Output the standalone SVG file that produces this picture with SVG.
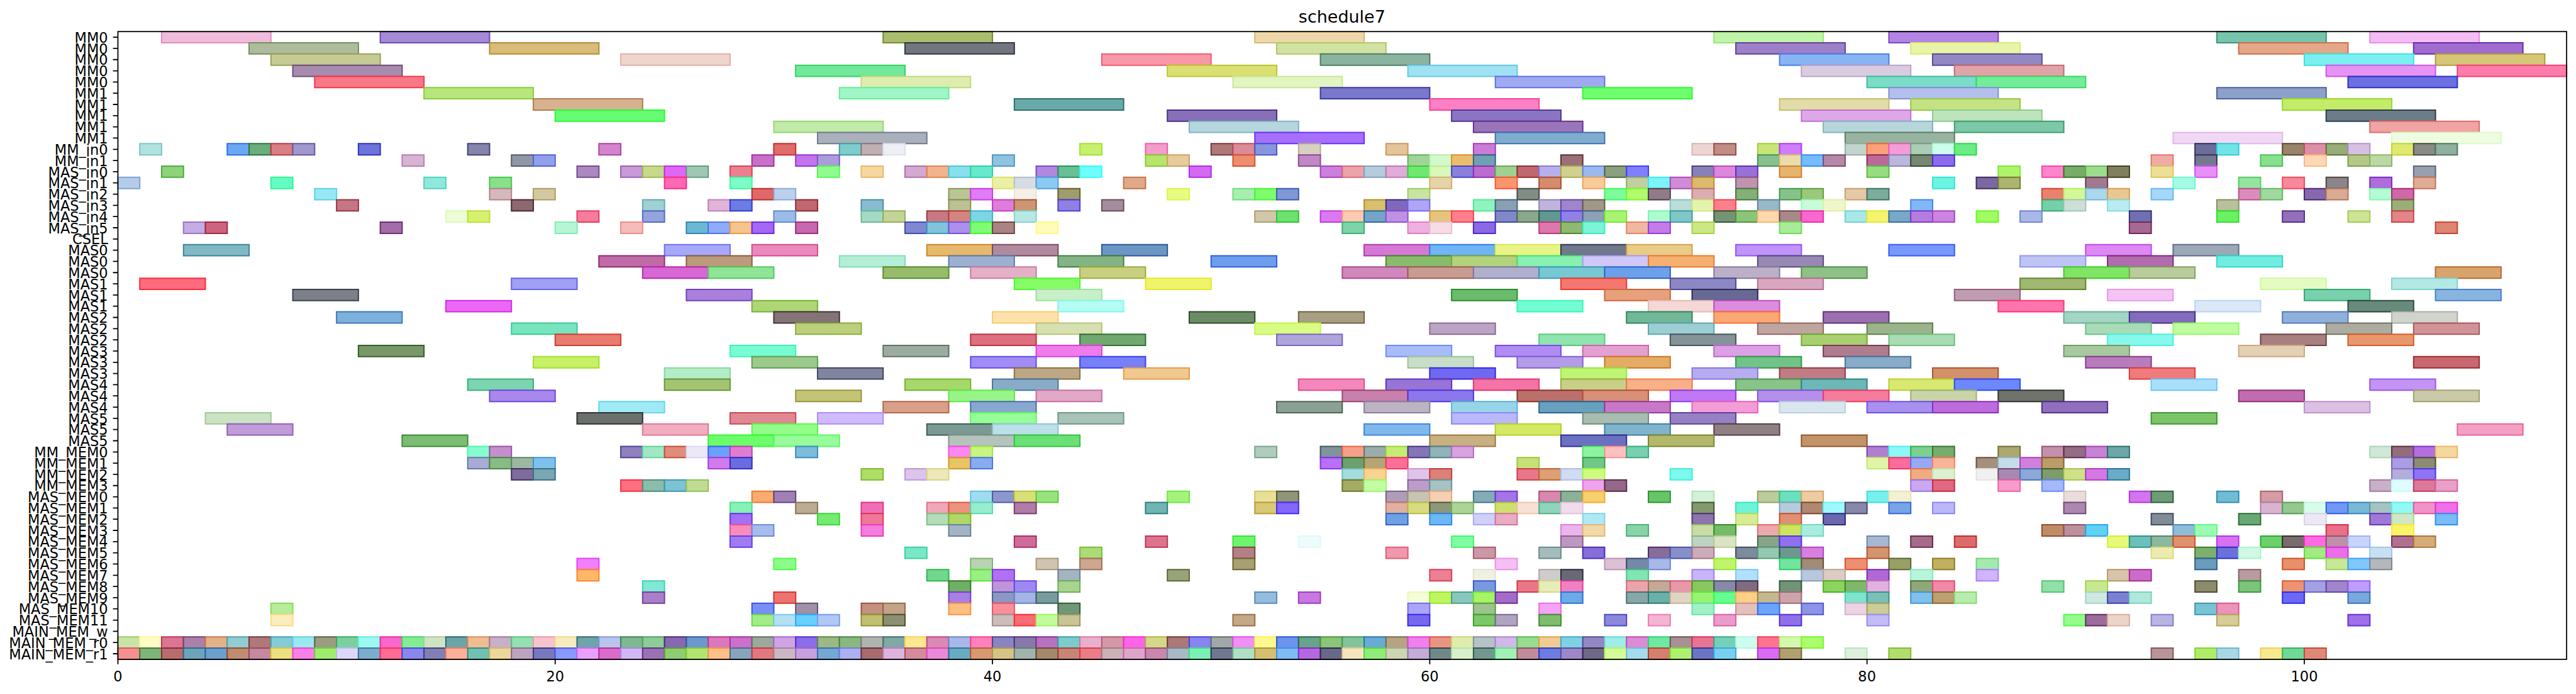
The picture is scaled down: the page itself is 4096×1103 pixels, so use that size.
<svg xmlns="http://www.w3.org/2000/svg" width="4096" height="1103" viewBox="0 0 4096 1103">
<style>
text{font-family:"DejaVu Sans","Liberation Sans",sans-serif;fill:#000}
.yl text{font-size:27.8px;text-anchor:end}
.xl text{font-size:27.8px;text-anchor:middle}
.t{font-size:33.3px;text-anchor:middle}
#bars rect{fill:currentColor;stroke:rgba(0,0,0,.2);stroke:rgb(from currentColor calc(r*r/255) calc(g*g/255) calc(b*b/255));stroke-width:2;vector-effect:non-scaling-stroke}
.tk{stroke:#000;stroke-width:2.2;fill:none}
</style>
<rect width="4096" height="1103" fill="#fff"/>
<g transform="scale(0.80981)">
<text class="t" x="2635" y="45">schedule7</text>
<g id="bars" transform="translate(231.5,62) scale(42.93,22)">
<g id="r0"><rect x="2" width="5" height="1" color="#f0bcdc"/><rect x="12" width="5" height="1" color="#a58ad8"/><rect x="35" width="5" height="1" color="#aabd6e"/><rect x="52" width="5" height="1" color="#eed8aa"/><rect x="73" width="5" height="1" color="#c0f4a8"/><rect x="81" width="5" height="1" color="#b484e4"/><rect x="96" width="5" height="1" color="#78c4ac"/><rect x="103" width="5" height="1" color="#f4bcf4"/></g>
<g id="r1" transform="translate(0,1)"><rect x="6" width="5" height="1" color="#afbc9c"/><rect x="17" width="5" height="1" color="#d8bc78"/><rect x="36" width="5" height="1" color="#72767e"/><rect x="53" width="5" height="1" color="#d2e2a2"/><rect x="74" width="5" height="1" color="#9e80c8"/><rect x="82" width="5" height="1" color="#eaf4a8"/><rect x="97" width="5" height="1" color="#e4a888"/><rect x="105" width="5" height="1" color="#a06cd0"/></g>
<g id="r2" transform="translate(0,2)"><rect x="7" width="5" height="1" color="#c6ca94"/><rect x="23" width="5" height="1" color="#f0d4ce"/><rect x="45" width="5" height="1" color="#f898a8"/><rect x="55" width="5" height="1" color="#8ab4a0"/><rect x="76" width="5" height="1" color="#88b4f4"/><rect x="83" width="5" height="1" color="#9488c4"/><rect x="100" width="5" height="1" color="#7cf0f0"/><rect x="106" width="5" height="1" color="#d6c678"/></g>
<g id="r3" transform="translate(0,3)"><rect x="8" width="5" height="1" color="#a78caf"/><rect x="31" width="5" height="1" color="#72e89a"/><rect x="48" width="5" height="1" color="#dbe072"/><rect x="59" width="5" height="1" color="#a0e2f2"/><rect x="77" width="5" height="1" color="#dacce0"/><rect x="84" width="5" height="1" color="#e0a4a8"/><rect x="101" width="5" height="1" color="#e694f4"/><rect x="107" width="5" height="1" color="#fc7cac"/></g>
<g id="r4" transform="translate(0,4)"><rect x="9" width="5" height="1" color="#f87888"/><rect x="34" width="5" height="1" color="#dfecb0"/><rect x="51" width="5" height="1" color="#e2f4c2"/><rect x="63" width="5" height="1" color="#a0aaf0"/><rect x="80" width="5" height="1" color="#7cdcc8"/><rect x="85" width="5" height="1" color="#74ec9c"/><rect x="102" width="5" height="1" color="#6c70e0"/></g>
<g id="r5" transform="translate(0,5)"><rect x="14" width="5" height="1" color="#b8e67c"/><rect x="33" width="5" height="1" color="#a0f6c6"/><rect x="55" width="5" height="1" color="#7a78cc"/><rect x="67" width="5" height="1" color="#6efe6e"/><rect x="81" width="5" height="1" color="#b4c0ec"/><rect x="96" width="5" height="1" color="#8ca0c8"/></g>
<g id="r6" transform="translate(0,6)"><rect x="19" width="5" height="1" color="#d6b290"/><rect x="41" width="5" height="1" color="#68aaa8"/><rect x="60" width="5" height="1" color="#fe80c4"/><rect x="76" width="5" height="1" color="#e2dca8"/><rect x="82" width="5" height="1" color="#c4e284"/><rect x="99" width="5" height="1" color="#c4ec68"/></g>
<g id="r7" transform="translate(0,7)"><rect x="20" width="5" height="1" color="#68fc74"/><rect x="48" width="5" height="1" color="#8870b8"/><rect x="61" width="5" height="1" color="#8c74c4"/><rect x="77" width="5" height="1" color="#dea8e8"/><rect x="83" width="5" height="1" color="#bde4bc"/><rect x="101" width="5" height="1" color="#6c7c88"/></g>
<g id="r8" transform="translate(0,8)"><rect x="30" width="5" height="1" color="#c2eaa8"/><rect x="49" width="5" height="1" color="#b4d6dc"/><rect x="62" width="5" height="1" color="#9c74bc"/><rect x="78" width="5" height="1" color="#b6d6dc"/><rect x="84" width="5" height="1" color="#7cc8a8"/><rect x="103" width="5" height="1" color="#f0a4a4"/></g>
<g id="r9" transform="translate(0,9)"><rect x="32" width="5" height="1" color="#aab0bc"/><rect x="52" width="5" height="1" color="#a670fc"/><rect x="63" width="5" height="1" color="#80acd0"/><rect x="79" width="5" height="1" color="#98b4a0"/><rect x="94" width="5" height="1" color="#f0d8f4"/><rect x="104" width="5" height="1" color="#eefce0"/></g>
<g id="r10" transform="translate(0,10)"><rect x="1" width="1" height="1" color="#b2e2de"/><rect x="5" width="1" height="1" color="#6aa8f4"/><rect x="6" width="1" height="1" color="#6aae7e"/><rect x="7" width="1" height="1" color="#d87e84"/><rect x="8" width="1" height="1" color="#a098cc"/><rect x="11" width="1" height="1" color="#6c74dc"/><rect x="16" width="1" height="1" color="#8484ac"/><rect x="22" width="1" height="1" color="#d484cc"/><rect x="30" width="1" height="1" color="#e06c6c"/><rect x="33" width="1" height="1" color="#7ecccc"/><rect x="34" width="1" height="1" color="#c0b0b4"/><rect x="35" width="1" height="1" color="#eeeff4"/><rect x="44" width="1" height="1" color="#c8f070"/><rect x="47" width="1" height="1" color="#f49ccc"/><rect x="50" width="1" height="1" color="#b07878"/><rect x="51" width="1" height="1" color="#dc8c98"/><rect x="52" width="1" height="1" color="#8896e0"/><rect x="54" width="1" height="1" color="#d8d0c0"/><rect x="58" width="1" height="1" color="#e4c498"/><rect x="62" width="1" height="1" color="#cc7cd8"/><rect x="72" width="1" height="1" color="#ecd6d4"/><rect x="73" width="1" height="1" color="#c08c84"/><rect x="75" width="1" height="1" color="#c8e678"/><rect x="76" width="1" height="1" color="#d07cfc"/><rect x="79" width="1" height="1" color="#c2d4cc"/><rect x="80" width="1" height="1" color="#fca07c"/><rect x="81" width="1" height="1" color="#f49cd8"/><rect x="82" width="1" height="1" color="#acccb8"/><rect x="83" width="1" height="1" color="#ccfcec"/><rect x="84" width="1" height="1" color="#6cec84"/><rect x="95" width="1" height="1" color="#6c6c9c"/><rect x="96" width="1" height="1" color="#70e4e8"/><rect x="99" width="1" height="1" color="#988468"/><rect x="100" width="1" height="1" color="#dc90a8"/><rect x="101" width="1" height="1" color="#98ac78"/><rect x="102" width="1" height="1" color="#d8c0e4"/><rect x="104" width="1" height="1" color="#e0e870"/><rect x="105" width="1" height="1" color="#888c84"/><rect x="106" width="1" height="1" color="#90b0a0"/></g>
<g id="r11" transform="translate(0,11)"><rect x="13" width="1" height="1" color="#d8b4d4"/><rect x="18" width="1" height="1" color="#9098a8"/><rect x="19" width="1" height="1" color="#90a0ec"/><rect x="29" width="1" height="1" color="#c870c8"/><rect x="31" width="1" height="1" color="#c274ec"/><rect x="32" width="1" height="1" color="#ac9cdc"/><rect x="40" width="1" height="1" color="#8ec4e0"/><rect x="47" width="1" height="1" color="#b8e46c"/><rect x="48" width="1" height="1" color="#e6cc9c"/><rect x="51" width="1" height="1" color="#ec8e70"/><rect x="54" width="1" height="1" color="#c088c4"/><rect x="59" width="1" height="1" color="#a0d498"/><rect x="60" width="1" height="1" color="#d4f8cc"/><rect x="61" width="1" height="1" color="#ecbe6c"/><rect x="62" width="1" height="1" color="#70a0b4"/><rect x="66" width="1" height="1" color="#9c7078"/><rect x="75" width="1" height="1" color="#88c090"/><rect x="76" width="1" height="1" color="#ecdcac"/><rect x="77" width="1" height="1" color="#74bcfc"/><rect x="78" width="1" height="1" color="#b488a8"/><rect x="80" width="1" height="1" color="#bc6898"/><rect x="81" width="1" height="1" color="#bcb8dc"/><rect x="82" width="1" height="1" color="#788870"/><rect x="83" width="1" height="1" color="#8c6ce8"/><rect x="93" width="1" height="1" color="#f0aca4"/><rect x="95" width="1" height="1" color="#747890"/><rect x="98" width="1" height="1" color="#88e090"/><rect x="100" width="1" height="1" color="#fed8b4"/><rect x="102" width="1" height="1" color="#b4c888"/><rect x="103" width="1" height="1" color="#bcd8a4"/></g>
<g id="r12" transform="translate(0,12)"><rect x="2" width="1" height="1" color="#8ed27a"/><rect x="21" width="1" height="1" color="#ac88c0"/><rect x="23" width="1" height="1" color="#c89ad8"/><rect x="24" width="1" height="1" color="#c8d88c"/><rect x="25" width="1" height="1" color="#de68f4"/><rect x="26" width="1" height="1" color="#9ec8b4"/><rect x="28" width="1" height="1" color="#ec8090"/><rect x="32" width="1" height="1" color="#90fc90"/><rect x="34" width="1" height="1" color="#f4d8a0"/><rect x="36" width="1" height="1" color="#d4a8d0"/><rect x="37" width="1" height="1" color="#f2b48e"/><rect x="38" width="1" height="1" color="#88e0ec"/><rect x="39" width="1" height="1" color="#68e8cc"/><rect x="42" width="1" height="1" color="#b088e0"/><rect x="43" width="1" height="1" color="#68c094"/><rect x="44" width="1" height="1" color="#70fefc"/><rect x="49" width="1" height="1" color="#d46af4"/><rect x="55" width="1" height="1" color="#cc80dc"/><rect x="56" width="1" height="1" color="#eca4ac"/><rect x="57" width="1" height="1" color="#b4ccdc"/><rect x="58" width="1" height="1" color="#e0acd8"/><rect x="59" width="1" height="1" color="#70e870"/><rect x="60" width="1" height="1" color="#d8f8bc"/><rect x="61" width="1" height="1" color="#8880dc"/><rect x="62" width="1" height="1" color="#bc6cd0"/><rect x="63" width="1" height="1" color="#a0d090"/><rect x="64" width="1" height="1" color="#c06870"/><rect x="65" width="1" height="1" color="#b8b0ec"/><rect x="66" width="1" height="1" color="#d2d08c"/><rect x="67" width="1" height="1" color="#9cb8ec"/><rect x="68" width="1" height="1" color="#8aa080"/><rect x="69" width="1" height="1" color="#8080fc"/><rect x="72" width="1" height="1" color="#8880b8"/><rect x="73" width="1" height="1" color="#dc88dc"/><rect x="74" width="1" height="1" color="#9870d8"/><rect x="76" width="1" height="1" color="#e6b46c"/><rect x="80" width="1" height="1" color="#98dc80"/><rect x="86" width="1" height="1" color="#b0f46c"/><rect x="88" width="1" height="1" color="#fe84cc"/><rect x="89" width="1" height="1" color="#78ac68"/><rect x="90" width="1" height="1" color="#9cdc8c"/><rect x="91" width="1" height="1" color="#808060"/><rect x="93" width="1" height="1" color="#ece098"/><rect x="95" width="1" height="1" color="#e890f8"/><rect x="105" width="1" height="1" color="#98a0b0"/></g>
<g id="r13" transform="translate(0,13)"><rect x="0" width="1" height="1" color="#b4cce8"/><rect x="7" width="1" height="1" color="#64fcc0"/><rect x="14" width="1" height="1" color="#90e8dc"/><rect x="17" width="1" height="1" color="#88e08c"/><rect x="25" width="1" height="1" color="#fe68b4"/><rect x="28" width="1" height="1" color="#7cfcc8"/><rect x="40" width="1" height="1" color="#ecf0a4"/><rect x="41" width="1" height="1" color="#d6dce4"/><rect x="42" width="1" height="1" color="#8ccaf0"/><rect x="46" width="1" height="1" color="#e0aa8a"/><rect x="60" width="1" height="1" color="#e6d4a8"/><rect x="63" width="1" height="1" color="#fc946c"/><rect x="65" width="1" height="1" color="#d48c6c"/><rect x="67" width="1" height="1" color="#f8cc98"/><rect x="69" width="1" height="1" color="#c0d0a0"/><rect x="70" width="1" height="1" color="#7cf4f8"/><rect x="71" width="1" height="1" color="#d08cd8"/><rect x="72" width="1" height="1" color="#dcbc6c"/><rect x="74" width="1" height="1" color="#c094b0"/><rect x="83" width="1" height="1" color="#6cf4e4"/><rect x="85" width="1" height="1" color="#7c68a0"/><rect x="86" width="1" height="1" color="#acb470"/><rect x="90" width="1" height="1" color="#a07890"/><rect x="94" width="1" height="1" color="#a4fce4"/><rect x="97" width="1" height="1" color="#94e4a0"/><rect x="99" width="1" height="1" color="#f8889c"/><rect x="101" width="1" height="1" color="#8c8488"/><rect x="103" width="1" height="1" color="#b06cdc"/><rect x="105" width="1" height="1" color="#e0ac94"/></g>
<g id="r14" transform="translate(0,14)"><rect x="9" width="1" height="1" color="#98e8f4"/><rect x="17" width="1" height="1" color="#d4b8bc"/><rect x="19" width="1" height="1" color="#d2c8a0"/><rect x="29" width="1" height="1" color="#e06868"/><rect x="30" width="1" height="1" color="#bcd0ec"/><rect x="38" width="1" height="1" color="#bac494"/><rect x="39" width="1" height="1" color="#e07cf4"/><rect x="41" width="1" height="1" color="#f4f0e8"/><rect x="43" width="1" height="1" color="#a09c6c"/><rect x="48" width="1" height="1" color="#e8fc84"/><rect x="51" width="1" height="1" color="#a8eeb0"/><rect x="52" width="1" height="1" color="#80fc6c"/><rect x="53" width="1" height="1" color="#8098d4"/><rect x="59" width="1" height="1" color="#c8e4a0"/><rect x="64" width="1" height="1" color="#808c84"/><rect x="68" width="1" height="1" color="#7cfc9c"/><rect x="69" width="1" height="1" color="#b0fc6c"/><rect x="70" width="1" height="1" color="#907c88"/><rect x="72" width="1" height="1" color="#dcacb0"/><rect x="74" width="1" height="1" color="#84b078"/><rect x="76" width="1" height="1" color="#84c48c"/><rect x="77" width="1" height="1" color="#9cc87c"/><rect x="79" width="1" height="1" color="#e4c8a8"/><rect x="80" width="1" height="1" color="#7cac9c"/><rect x="88" width="1" height="1" color="#ec8070"/><rect x="89" width="1" height="1" color="#d4f898"/><rect x="90" width="1" height="1" color="#acd8ec"/><rect x="91" width="1" height="1" color="#e8c890"/><rect x="93" width="1" height="1" color="#a4d8f8"/><rect x="97" width="1" height="1" color="#dc8cbc"/><rect x="98" width="1" height="1" color="#a0d8a0"/><rect x="100" width="1" height="1" color="#8868ac"/><rect x="101" width="1" height="1" color="#d8ac94"/><rect x="103" width="1" height="1" color="#b4fcd4"/><rect x="104" width="1" height="1" color="#d068a8"/></g>
<g id="r15" transform="translate(0,15)"><rect x="10" width="1" height="1" color="#c47684"/><rect x="18" width="1" height="1" color="#8c6870"/><rect x="24" width="1" height="1" color="#9ed0d4"/><rect x="27" width="1" height="1" color="#e0b4d8"/><rect x="28" width="1" height="1" color="#6c7ce4"/><rect x="31" width="1" height="1" color="#c06870"/><rect x="34" width="1" height="1" color="#8abcd0"/><rect x="38" width="1" height="1" color="#bcc094"/><rect x="40" width="1" height="1" color="#e07cdc"/><rect x="41" width="1" height="1" color="#cc9674"/><rect x="43" width="1" height="1" color="#9080e4"/><rect x="45" width="1" height="1" color="#a48c9c"/><rect x="57" width="1" height="1" color="#d6c06c"/><rect x="58" width="1" height="1" color="#8068bc"/><rect x="59" width="1" height="1" color="#b0a4f8"/><rect x="62" width="1" height="1" color="#90f4c0"/><rect x="63" width="1" height="1" color="#88a0b4"/><rect x="65" width="1" height="1" color="#c0b4dc"/><rect x="66" width="1" height="1" color="#a084cc"/><rect x="67" width="1" height="1" color="#a09884"/><rect x="71" width="1" height="1" color="#bcdcdc"/><rect x="72" width="1" height="1" color="#e4f4b0"/><rect x="73" width="1" height="1" color="#fc808c"/><rect x="75" width="1" height="1" color="#98b8c8"/><rect x="77" width="1" height="1" color="#c8fcd8"/><rect x="78" width="1" height="1" color="#f0f6cc"/><rect x="82" width="1" height="1" color="#80b8f8"/><rect x="88" width="1" height="1" color="#74d0a8"/><rect x="89" width="1" height="1" color="#cce0d8"/><rect x="91" width="1" height="1" color="#b8ecf0"/><rect x="96" width="1" height="1" color="#b8c09c"/><rect x="104" width="1" height="1" color="#9cae78"/></g>
<g id="r16" transform="translate(0,16)"><rect x="15" width="1" height="1" color="#eefcd8"/><rect x="16" width="1" height="1" color="#d8f070"/><rect x="21" width="1" height="1" color="#f47c9c"/><rect x="24" width="1" height="1" color="#94a4dc"/><rect x="30" width="1" height="1" color="#9cbce8"/><rect x="34" width="1" height="1" color="#a4dac4"/><rect x="35" width="1" height="1" color="#c4d498"/><rect x="37" width="1" height="1" color="#c87880"/><rect x="38" width="1" height="1" color="#d4847c"/><rect x="39" width="1" height="1" color="#7cd6e4"/><rect x="41" width="1" height="1" color="#b8e8e4"/><rect x="52" width="1" height="1" color="#d0c8a8"/><rect x="53" width="1" height="1" color="#6ee070"/><rect x="55" width="1" height="1" color="#dc78f0"/><rect x="56" width="1" height="1" color="#fccab0"/><rect x="57" width="1" height="1" color="#74a4c8"/><rect x="58" width="1" height="1" color="#c090e4"/><rect x="60" width="1" height="1" color="#e6c47c"/><rect x="61" width="1" height="1" color="#fc808c"/><rect x="63" width="1" height="1" color="#8088c8"/><rect x="64" width="1" height="1" color="#8ca88c"/><rect x="65" width="1" height="1" color="#609894"/><rect x="66" width="1" height="1" color="#9080e8"/><rect x="67" width="1" height="1" color="#8ca0b8"/><rect x="68" width="1" height="1" color="#a8f470"/><rect x="70" width="1" height="1" color="#acfcd0"/><rect x="71" width="1" height="1" color="#80c8c8"/><rect x="73" width="1" height="1" color="#749474"/><rect x="74" width="1" height="1" color="#8cc478"/><rect x="75" width="1" height="1" color="#fcd8ac"/><rect x="76" width="1" height="1" color="#a88888"/><rect x="77" width="1" height="1" color="#f868d0"/><rect x="79" width="1" height="1" color="#a8e8e8"/><rect x="80" width="1" height="1" color="#f4f470"/><rect x="81" width="1" height="1" color="#78a8c8"/><rect x="82" width="1" height="1" color="#b47ce0"/><rect x="83" width="1" height="1" color="#cc84e0"/><rect x="85" width="1" height="1" color="#a0fc60"/><rect x="87" width="1" height="1" color="#a8b8e8"/><rect x="92" width="1" height="1" color="#7070b0"/><rect x="96" width="1" height="1" color="#6cf064"/><rect x="99" width="1" height="1" color="#9470bc"/><rect x="102" width="1" height="1" color="#cce494"/><rect x="104" width="1" height="1" color="#e28488"/></g>
<g id="r17" transform="translate(0,17)"><rect x="3" width="1" height="1" color="#c4ace4"/><rect x="4" width="1" height="1" color="#cc6480"/><rect x="12" width="1" height="1" color="#a46ca8"/><rect x="20" width="1" height="1" color="#b6f6d4"/><rect x="23" width="1" height="1" color="#f6bcbc"/><rect x="26" width="1" height="1" color="#6cb8d4"/><rect x="27" width="1" height="1" color="#8eacf8"/><rect x="28" width="1" height="1" color="#f6c48c"/><rect x="29" width="1" height="1" color="#a468f4"/><rect x="31" width="1" height="1" color="#c868b0"/><rect x="36" width="1" height="1" color="#8088d4"/><rect x="37" width="1" height="1" color="#80c4dc"/><rect x="38" width="1" height="1" color="#ac90ec"/><rect x="39" width="1" height="1" color="#80fc74"/><rect x="40" width="1" height="1" color="#a88484"/><rect x="42" width="1" height="1" color="#fefcb8"/><rect x="56" width="1" height="1" color="#7cd4a8"/><rect x="59" width="1" height="1" color="#f0b0e0"/><rect x="60" width="1" height="1" color="#f6dce4"/><rect x="62" width="1" height="1" color="#8c68e4"/><rect x="65" width="1" height="1" color="#dc78ac"/><rect x="66" width="1" height="1" color="#90b870"/><rect x="67" width="1" height="1" color="#7cf4d8"/><rect x="69" width="1" height="1" color="#f0b8a0"/><rect x="70" width="1" height="1" color="#c47ce8"/><rect x="72" width="1" height="1" color="#cce884"/><rect x="76" width="1" height="1" color="#a8ec98"/><rect x="92" width="1" height="1" color="#a86894"/><rect x="106" width="1" height="1" color="#e08474"/></g>
<g id="r19" transform="translate(0,19)"><rect x="3" width="3" height="1" color="#80b8c4"/><rect x="25" width="3" height="1" color="#a8a8f8"/><rect x="29" width="3" height="1" color="#ea8abc"/><rect x="37" width="3" height="1" color="#e6ba6c"/><rect x="40" width="3" height="1" color="#b08a9e"/><rect x="45" width="3" height="1" color="#6c96c4"/><rect x="57" width="3" height="1" color="#d478d4"/><rect x="60" width="3" height="1" color="#70b4f4"/><rect x="63" width="3" height="1" color="#e8f488"/><rect x="66" width="3" height="1" color="#70788c"/><rect x="69" width="3" height="1" color="#e8cc88"/><rect x="74" width="3" height="1" color="#c094f8"/><rect x="81" width="3" height="1" color="#7898fc"/><rect x="90" width="3" height="1" color="#de88f4"/><rect x="94" width="3" height="1" color="#9ca8b8"/></g>
<g id="r20" transform="translate(0,20)"><rect x="22" width="3" height="1" color="#c06aa8"/><rect x="26" width="3" height="1" color="#bc9a7c"/><rect x="33" width="3" height="1" color="#b4eed6"/><rect x="38" width="3" height="1" color="#9cb0d0"/><rect x="43" width="3" height="1" color="#84b484"/><rect x="50" width="3" height="1" color="#6c9eec"/><rect x="58" width="3" height="1" color="#88bc6c"/><rect x="61" width="3" height="1" color="#b2d27c"/><rect x="64" width="3" height="1" color="#88f0b0"/><rect x="67" width="3" height="1" color="#d0c8f8"/><rect x="70" width="3" height="1" color="#f4b070"/><rect x="75" width="3" height="1" color="#9888b4"/><rect x="87" width="3" height="1" color="#c0c4f4"/><rect x="91" width="3" height="1" color="#b06cac"/><rect x="96" width="3" height="1" color="#70ece0"/></g>
<g id="r21" transform="translate(0,21)"><rect x="24" width="3" height="1" color="#d868d4"/><rect x="27" width="3" height="1" color="#90e498"/><rect x="35" width="3" height="1" color="#96bc6c"/><rect x="39" width="3" height="1" color="#e4b0c8"/><rect x="44" width="3" height="1" color="#c8d080"/><rect x="56" width="3" height="1" color="#d088bc"/><rect x="59" width="3" height="1" color="#c89c90"/><rect x="62" width="3" height="1" color="#b0b0cc"/><rect x="65" width="3" height="1" color="#78c8d4"/><rect x="68" width="3" height="1" color="#6ca0e8"/><rect x="73" width="3" height="1" color="#bcb0c8"/><rect x="77" width="3" height="1" color="#8ec088"/><rect x="89" width="3" height="1" color="#80e464"/><rect x="92" width="3" height="1" color="#b8cc9c"/><rect x="106" width="3" height="1" color="#d8a46c"/></g>
<g id="r22" transform="translate(0,22)"><rect x="1" width="3" height="1" color="#fc6c7c"/><rect x="18" width="3" height="1" color="#a0a0f4"/><rect x="41" width="3" height="1" color="#88fc68"/><rect x="47" width="3" height="1" color="#f0f46a"/><rect x="66" width="3" height="1" color="#f47870"/><rect x="71" width="3" height="1" color="#8c88c4"/><rect x="75" width="3" height="1" color="#d8a8c0"/><rect x="87" width="3" height="1" color="#a0b870"/><rect x="98" width="3" height="1" color="#e4fcc4"/><rect x="104" width="3" height="1" color="#b4e8e4"/></g>
<g id="r23" transform="translate(0,23)"><rect x="8" width="3" height="1" color="#7c8088"/><rect x="26" width="3" height="1" color="#aa80dc"/><rect x="42" width="3" height="1" color="#c8f0c8"/><rect x="61" width="3" height="1" color="#68bc6c"/><rect x="68" width="3" height="1" color="#e6a07c"/><rect x="72" width="3" height="1" color="#686894"/><rect x="84" width="3" height="1" color="#c09cb0"/><rect x="91" width="3" height="1" color="#f4c4f4"/><rect x="100" width="3" height="1" color="#78d0ac"/><rect x="106" width="3" height="1" color="#88b4e0"/></g>
<g id="r24" transform="translate(0,24)"><rect x="15" width="3" height="1" color="#ea68f4"/><rect x="29" width="3" height="1" color="#aed674"/><rect x="43" width="3" height="1" color="#b4fcf4"/><rect x="64" width="3" height="1" color="#74fcd4"/><rect x="70" width="3" height="1" color="#f4d8d8"/><rect x="73" width="3" height="1" color="#dc8cdc"/><rect x="86" width="3" height="1" color="#fe74ac"/><rect x="95" width="3" height="1" color="#dae8f8"/><rect x="102" width="3" height="1" color="#688a7c"/></g>
<g id="r25" transform="translate(0,25)"><rect x="10" width="3" height="1" color="#7eb0dc"/><rect x="30" width="3" height="1" color="#847478"/><rect x="40" width="3" height="1" color="#fee2aa"/><rect x="49" width="3" height="1" color="#6c8c68"/><rect x="54" width="3" height="1" color="#a89e84"/><rect x="69" width="3" height="1" color="#70b898"/><rect x="73" width="3" height="1" color="#fca874"/><rect x="78" width="3" height="1" color="#9c70b0"/><rect x="89" width="3" height="1" color="#a4d4c4"/><rect x="92" width="3" height="1" color="#846cbc"/><rect x="99" width="3" height="1" color="#90b0dc"/><rect x="104" width="3" height="1" color="#d0d4cc"/></g>
<g id="r26" transform="translate(0,26)"><rect x="18" width="3" height="1" color="#78e4c0"/><rect x="31" width="3" height="1" color="#bcd07c"/><rect x="42" width="3" height="1" color="#d6e0b0"/><rect x="52" width="3" height="1" color="#dafc84"/><rect x="60" width="3" height="1" color="#bca4c4"/><rect x="70" width="3" height="1" color="#9cced4"/><rect x="75" width="3" height="1" color="#c0a4a0"/><rect x="80" width="3" height="1" color="#9cb48c"/><rect x="90" width="3" height="1" color="#a8dcb8"/><rect x="94" width="3" height="1" color="#c0fca0"/><rect x="101" width="3" height="1" color="#acaca0"/><rect x="105" width="3" height="1" color="#d09498"/></g>
<g id="r27" transform="translate(0,27)"><rect x="20" width="3" height="1" color="#e87c70"/><rect x="39" width="3" height="1" color="#dc7080"/><rect x="44" width="3" height="1" color="#70a870"/><rect x="53" width="3" height="1" color="#b0a4dc"/><rect x="65" width="3" height="1" color="#90e4b0"/><rect x="71" width="3" height="1" color="#849498"/><rect x="77" width="3" height="1" color="#a8d070"/><rect x="81" width="3" height="1" color="#a8dcb4"/><rect x="91" width="3" height="1" color="#88f8ec"/><rect x="98" width="3" height="1" color="#a88080"/><rect x="102" width="3" height="1" color="#e8986c"/></g>
<g id="r28" transform="translate(0,28)"><rect x="11" width="3" height="1" color="#789868"/><rect x="28" width="3" height="1" color="#78fcd4"/><rect x="35" width="3" height="1" color="#9caca0"/><rect x="42" width="3" height="1" color="#f07cec"/><rect x="58" width="3" height="1" color="#a8bcf8"/><rect x="63" width="3" height="1" color="#b08cf4"/><rect x="67" width="3" height="1" color="#e4a0d0"/><rect x="73" width="3" height="1" color="#dca0e4"/><rect x="78" width="3" height="1" color="#b07c90"/><rect x="89" width="3" height="1" color="#a8c8a0"/><rect x="97" width="3" height="1" color="#e4d0b4"/></g>
<g id="r29" transform="translate(0,29)"><rect x="19" width="3" height="1" color="#c8f068"/><rect x="29" width="3" height="1" color="#9cca8c"/><rect x="39" width="3" height="1" color="#a08cf4"/><rect x="44" width="3" height="1" color="#7880f8"/><rect x="59" width="3" height="1" color="#c8dec8"/><rect x="64" width="3" height="1" color="#b49ce8"/><rect x="68" width="3" height="1" color="#e4ac64"/><rect x="74" width="3" height="1" color="#70c488"/><rect x="79" width="3" height="1" color="#88acc8"/><rect x="90" width="3" height="1" color="#b87cbc"/><rect x="105" width="3" height="1" color="#c86870"/></g>
<g id="r30" transform="translate(0,30)"><rect x="25" width="3" height="1" color="#b4ecc8"/><rect x="32" width="3" height="1" color="#80849c"/><rect x="41" width="3" height="1" color="#bca884"/><rect x="46" width="3" height="1" color="#f0c890"/><rect x="60" width="3" height="1" color="#7068f0"/><rect x="66" width="3" height="1" color="#c0f474"/><rect x="72" width="3" height="1" color="#b8acf0"/><rect x="76" width="3" height="1" color="#c07c84"/><rect x="83" width="3" height="1" color="#d49068"/><rect x="92" width="3" height="1" color="#ee7c7c"/></g>
<g id="r31" transform="translate(0,31)"><rect x="16" width="3" height="1" color="#7cd4b0"/><rect x="25" width="3" height="1" color="#a4c474"/><rect x="36" width="3" height="1" color="#a8d86c"/><rect x="40" width="3" height="1" color="#88acc8"/><rect x="54" width="3" height="1" color="#f488bc"/><rect x="58" width="3" height="1" color="#9874d8"/><rect x="62" width="3" height="1" color="#f474a8"/><rect x="66" width="3" height="1" color="#c8d088"/><rect x="69" width="3" height="1" color="#f8b088"/><rect x="74" width="3" height="1" color="#88c488"/><rect x="77" width="3" height="1" color="#6cb8b8"/><rect x="81" width="3" height="1" color="#d8e870"/><rect x="84" width="3" height="1" color="#6c88fc"/><rect x="93" width="3" height="1" color="#a8e0fc"/><rect x="103" width="3" height="1" color="#c494f4"/></g>
<g id="r32" transform="translate(0,32)"><rect x="17" width="3" height="1" color="#a888ec"/><rect x="31" width="3" height="1" color="#c4c478"/><rect x="38" width="3" height="1" color="#98f488"/><rect x="42" width="3" height="1" color="#e2a8c8"/><rect x="56" width="3" height="1" color="#c880ac"/><rect x="59" width="3" height="1" color="#8c78ec"/><rect x="64" width="3" height="1" color="#bc706c"/><rect x="67" width="3" height="1" color="#d89078"/><rect x="71" width="3" height="1" color="#c078f4"/><rect x="75" width="3" height="1" color="#b490ec"/><rect x="78" width="3" height="1" color="#f47c9c"/><rect x="82" width="3" height="1" color="#c8d4a8"/><rect x="86" width="3" height="1" color="#70726c"/><rect x="97" width="3" height="1" color="#c06cb0"/><rect x="105" width="3" height="1" color="#cacaa8"/></g>
<g id="r33" transform="translate(0,33)"><rect x="22" width="3" height="1" color="#a0eaf6"/><rect x="35" width="3" height="1" color="#d8a088"/><rect x="39" width="3" height="1" color="#88a8d0"/><rect x="53" width="3" height="1" color="#8aa094"/><rect x="57" width="3" height="1" color="#bcb4c4"/><rect x="61" width="3" height="1" color="#98d4e8"/><rect x="65" width="3" height="1" color="#68a0c0"/><rect x="68" width="3" height="1" color="#c878c8"/><rect x="72" width="3" height="1" color="#f49cd8"/><rect x="76" width="3" height="1" color="#dae6ee"/><rect x="80" width="3" height="1" color="#a890f0"/><rect x="83" width="3" height="1" color="#bc6cdc"/><rect x="88" width="3" height="1" color="#9070bc"/><rect x="100" width="3" height="1" color="#dcc0e4"/></g>
<g id="r34" transform="translate(0,34)"><rect x="4" width="3" height="1" color="#cce2c4"/><rect x="21" width="3" height="1" color="#6c706c"/><rect x="28" width="3" height="1" color="#e08894"/><rect x="32" width="3" height="1" color="#d0bcfc"/><rect x="39" width="3" height="1" color="#98fc98"/><rect x="43" width="3" height="1" color="#a8c4b8"/><rect x="61" width="3" height="1" color="#bcb8fc"/><rect x="67" width="3" height="1" color="#a8bcb0"/><rect x="71" width="3" height="1" color="#9880c4"/><rect x="93" width="3" height="1" color="#7cc46c"/></g>
<g id="r35" transform="translate(0,35)"><rect x="5" width="3" height="1" color="#c09cd8"/><rect x="24" width="3" height="1" color="#f0aec0"/><rect x="29" width="3" height="1" color="#94fc88"/><rect x="37" width="3" height="1" color="#7c9a94"/><rect x="40" width="3" height="1" color="#bce0e8"/><rect x="57" width="3" height="1" color="#80b8ec"/><rect x="63" width="3" height="1" color="#d4e864"/><rect x="68" width="3" height="1" color="#80b4cc"/><rect x="73" width="3" height="1" color="#908084"/><rect x="107" width="3" height="1" color="#f4a0c4"/></g>
<g id="r36" transform="translate(0,36)"><rect x="13" width="3" height="1" color="#7cbc74"/><rect x="27" width="3" height="1" color="#6cfc6c"/><rect x="30" width="3" height="1" color="#98fc9c"/><rect x="38" width="3" height="1" color="#b4c4bc"/><rect x="41" width="3" height="1" color="#6ce078"/><rect x="60" width="3" height="1" color="#c8b080"/><rect x="66" width="3" height="1" color="#6c70c0"/><rect x="70" width="3" height="1" color="#b4b86c"/><rect x="77" width="3" height="1" color="#c09468"/></g>
<g id="r37" transform="translate(0,37)"><rect x="16" width="1" height="1" color="#88fcd0"/><rect x="17" width="1" height="1" color="#c490cc"/><rect x="23" width="1" height="1" color="#9080c0"/><rect x="24" width="1" height="1" color="#a0e8c4"/><rect x="25" width="1" height="1" color="#e08c7c"/><rect x="26" width="1" height="1" color="#ece8f8"/><rect x="27" width="1" height="1" color="#6ca0fc"/><rect x="28" width="1" height="1" color="#e07cd4"/><rect x="31" width="1" height="1" color="#7cbcdc"/><rect x="38" width="1" height="1" color="#fc88f4"/><rect x="39" width="1" height="1" color="#c8f480"/><rect x="52" width="1" height="1" color="#b0ccbc"/><rect x="55" width="1" height="1" color="#80949c"/><rect x="56" width="1" height="1" color="#f4a088"/><rect x="57" width="1" height="1" color="#9cacac"/><rect x="58" width="1" height="1" color="#c4ec74"/><rect x="59" width="1" height="1" color="#8474b8"/><rect x="60" width="1" height="1" color="#90b4b8"/><rect x="61" width="1" height="1" color="#d8a4e0"/><rect x="67" width="1" height="1" color="#8cf4a0"/><rect x="68" width="1" height="1" color="#fcc0c0"/><rect x="69" width="1" height="1" color="#78d0b0"/><rect x="80" width="1" height="1" color="#b080d0"/><rect x="81" width="1" height="1" color="#8cf8f8"/><rect x="82" width="1" height="1" color="#7cd090"/><rect x="83" width="1" height="1" color="#78ac6c"/><rect x="86" width="1" height="1" color="#aca870"/><rect x="88" width="1" height="1" color="#c490ac"/><rect x="89" width="1" height="1" color="#946c84"/><rect x="90" width="1" height="1" color="#c884d4"/><rect x="91" width="1" height="1" color="#6ca8a8"/><rect x="103" width="1" height="1" color="#d0e8d8"/><rect x="104" width="1" height="1" color="#946c7c"/><rect x="105" width="1" height="1" color="#b470e0"/><rect x="106" width="1" height="1" color="#f4d8a0"/></g>
<g id="r38" transform="translate(0,38)"><rect x="16" width="1" height="1" color="#a8acd4"/><rect x="17" width="1" height="1" color="#88bc84"/><rect x="18" width="1" height="1" color="#9cb8a0"/><rect x="19" width="1" height="1" color="#80c0ec"/><rect x="27" width="1" height="1" color="#d07cec"/><rect x="28" width="1" height="1" color="#6c6ce0"/><rect x="38" width="1" height="1" color="#e8c464"/><rect x="39" width="1" height="1" color="#88acf0"/><rect x="55" width="1" height="1" color="#b870f8"/><rect x="56" width="1" height="1" color="#6ca06c"/><rect x="57" width="1" height="1" color="#b4a478"/><rect x="58" width="1" height="1" color="#fc7098"/><rect x="64" width="1" height="1" color="#c8e078"/><rect x="67" width="1" height="1" color="#70c888"/><rect x="80" width="1" height="1" color="#e0f4a8"/><rect x="81" width="1" height="1" color="#fc6c9c"/><rect x="82" width="1" height="1" color="#98a8f4"/><rect x="83" width="1" height="1" color="#f8b498"/><rect x="85" width="1" height="1" color="#a4907c"/><rect x="86" width="1" height="1" color="#c4dce8"/><rect x="87" width="1" height="1" color="#d080dc"/><rect x="88" width="1" height="1" color="#bc9c68"/><rect x="104" width="1" height="1" color="#ac9ce4"/><rect x="105" width="1" height="1" color="#8c8c74"/></g>
<g id="r39" transform="translate(0,39)"><rect x="18" width="1" height="1" color="#806c9c"/><rect x="19" width="1" height="1" color="#78a8b4"/><rect x="34" width="1" height="1" color="#b0dc68"/><rect x="36" width="1" height="1" color="#dcc4ec"/><rect x="37" width="1" height="1" color="#ece8b8"/><rect x="56" width="1" height="1" color="#a4dcdc"/><rect x="57" width="1" height="1" color="#f8d494"/><rect x="59" width="1" height="1" color="#e0c4e8"/><rect x="60" width="1" height="1" color="#dc8078"/><rect x="64" width="1" height="1" color="#e87888"/><rect x="65" width="1" height="1" color="#dca074"/><rect x="66" width="1" height="1" color="#d0dcf4"/><rect x="67" width="1" height="1" color="#ccfc80"/><rect x="71" width="1" height="1" color="#7cf8ec"/><rect x="82" width="1" height="1" color="#f0ac80"/><rect x="83" width="1" height="1" color="#dcf0d0"/><rect x="85" width="1" height="1" color="#f0f0f0"/><rect x="86" width="1" height="1" color="#a888b0"/><rect x="87" width="1" height="1" color="#8ca8d8"/><rect x="88" width="1" height="1" color="#7c9c6c"/><rect x="89" width="1" height="1" color="#d0e088"/><rect x="90" width="1" height="1" color="#d478e4"/><rect x="91" width="1" height="1" color="#68acc8"/><rect x="104" width="1" height="1" color="#b4acdc"/><rect x="105" width="1" height="1" color="#8c74f4"/></g>
<g id="r40" transform="translate(0,40)"><rect x="23" width="1" height="1" color="#fc7080"/><rect x="24" width="1" height="1" color="#8cbcac"/><rect x="25" width="1" height="1" color="#7cc4d4"/><rect x="26" width="1" height="1" color="#c0dc94"/><rect x="56" width="1" height="1" color="#a4ac64"/><rect x="57" width="1" height="1" color="#c4fca4"/><rect x="59" width="1" height="1" color="#bc9cc8"/><rect x="60" width="1" height="1" color="#a4c4c4"/><rect x="67" width="1" height="1" color="#eca4ec"/><rect x="68" width="1" height="1" color="#946888"/><rect x="82" width="1" height="1" color="#c8a8f0"/><rect x="83" width="1" height="1" color="#e06880"/><rect x="86" width="1" height="1" color="#f89ccc"/><rect x="88" width="1" height="1" color="#a4b8fc"/><rect x="103" width="1" height="1" color="#c8b0c8"/><rect x="104" width="1" height="1" color="#e0fcfc"/><rect x="105" width="1" height="1" color="#dc789c"/><rect x="106" width="1" height="1" color="#e8a0c8"/></g>
<g id="r41" transform="translate(0,41)"><rect x="29" width="1" height="1" color="#f8ac70"/><rect x="30" width="1" height="1" color="#a080b4"/><rect x="39" width="1" height="1" color="#a0dcf0"/><rect x="40" width="1" height="1" color="#8c98cc"/><rect x="41" width="1" height="1" color="#d8e078"/><rect x="42" width="1" height="1" color="#98e47c"/><rect x="48" width="1" height="1" color="#a4f47c"/><rect x="52" width="1" height="1" color="#e8e098"/><rect x="53" width="1" height="1" color="#909478"/><rect x="58" width="1" height="1" color="#b09cb8"/><rect x="59" width="1" height="1" color="#c8c4b4"/><rect x="60" width="1" height="1" color="#f4d0b4"/><rect x="62" width="1" height="1" color="#84acb8"/><rect x="63" width="1" height="1" color="#a474e8"/><rect x="65" width="1" height="1" color="#d888ac"/><rect x="66" width="1" height="1" color="#8cb098"/><rect x="67" width="1" height="1" color="#f8d06c"/><rect x="70" width="1" height="1" color="#68c468"/><rect x="72" width="1" height="1" color="#d4f0d8"/><rect x="75" width="1" height="1" color="#bccc9c"/><rect x="76" width="1" height="1" color="#6ce0bc"/><rect x="77" width="1" height="1" color="#eccca0"/><rect x="80" width="1" height="1" color="#78f0ec"/><rect x="81" width="1" height="1" color="#f4f0d4"/><rect x="89" width="1" height="1" color="#e8dcdc"/><rect x="92" width="1" height="1" color="#d474f0"/><rect x="93" width="1" height="1" color="#6c9c78"/><rect x="96" width="1" height="1" color="#70bcd4"/><rect x="98" width="1" height="1" color="#d49ca4"/></g>
<g id="r42" transform="translate(0,42)"><rect x="28" width="1" height="1" color="#88f0b8"/><rect x="31" width="1" height="1" color="#bcac94"/><rect x="34" width="1" height="1" color="#f070b8"/><rect x="37" width="1" height="1" color="#f0a8b8"/><rect x="38" width="1" height="1" color="#ec9480"/><rect x="39" width="1" height="1" color="#98ecd0"/><rect x="41" width="1" height="1" color="#b07ca8"/><rect x="47" width="1" height="1" color="#70b4b4"/><rect x="52" width="1" height="1" color="#d8c878"/><rect x="53" width="1" height="1" color="#8468fc"/><rect x="58" width="1" height="1" color="#e0b0a0"/><rect x="59" width="1" height="1" color="#d8dc80"/><rect x="60" width="1" height="1" color="#8c9878"/><rect x="61" width="1" height="1" color="#acd498"/><rect x="63" width="1" height="1" color="#d0e070"/><rect x="64" width="1" height="1" color="#f8e0d4"/><rect x="65" width="1" height="1" color="#90d4bc"/><rect x="66" width="1" height="1" color="#f0dcec"/><rect x="72" width="1" height="1" color="#849870"/><rect x="74" width="1" height="1" color="#70f4d8"/><rect x="76" width="1" height="1" color="#b4ccdc"/><rect x="77" width="1" height="1" color="#b08870"/><rect x="78" width="1" height="1" color="#a0f8fc"/><rect x="79" width="1" height="1" color="#8888a8"/><rect x="81" width="1" height="1" color="#78a4e8"/><rect x="83" width="1" height="1" color="#bcb8f8"/><rect x="89" width="1" height="1" color="#ac88b0"/><rect x="98" width="1" height="1" color="#d8b4d0"/><rect x="99" width="1" height="1" color="#94c890"/><rect x="100" width="1" height="1" color="#d8fcec"/><rect x="101" width="1" height="1" color="#7098f4"/><rect x="102" width="1" height="1" color="#78b8d8"/><rect x="103" width="1" height="1" color="#a4c4c4"/><rect x="104" width="1" height="1" color="#94f8f4"/><rect x="105" width="1" height="1" color="#f094c8"/><rect x="106" width="1" height="1" color="#f070e8"/></g>
<g id="r43" transform="translate(0,43)"><rect x="28" width="1" height="1" color="#a470f4"/><rect x="32" width="1" height="1" color="#74ec70"/><rect x="34" width="1" height="1" color="#f07898"/><rect x="37" width="1" height="1" color="#b4dcb8"/><rect x="38" width="1" height="1" color="#b0d868"/><rect x="58" width="1" height="1" color="#70a0e4"/><rect x="60" width="1" height="1" color="#6cb8f4"/><rect x="62" width="1" height="1" color="#d0d0f8"/><rect x="63" width="1" height="1" color="#e8acc4"/><rect x="67" width="1" height="1" color="#b0e8f4"/><rect x="72" width="1" height="1" color="#8c74ac"/><rect x="74" width="1" height="1" color="#d8ec98"/><rect x="76" width="1" height="1" color="#e09074"/><rect x="78" width="1" height="1" color="#6c68b0"/><rect x="93" width="1" height="1" color="#808c98"/><rect x="97" width="1" height="1" color="#68a874"/><rect x="100" width="1" height="1" color="#ece8f4"/><rect x="103" width="1" height="1" color="#a078d8"/><rect x="104" width="1" height="1" color="#d0e8c4"/><rect x="106" width="1" height="1" color="#78bcf8"/></g>
<g id="r44" transform="translate(0,44)"><rect x="28" width="1" height="1" color="#f88cbc"/><rect x="29" width="1" height="1" color="#a8bcec"/><rect x="34" width="1" height="1" color="#f47cdc"/><rect x="38" width="1" height="1" color="#a4b4c4"/><rect x="66" width="1" height="1" color="#ecb4ec"/><rect x="67" width="1" height="1" color="#f0d8a8"/><rect x="69" width="1" height="1" color="#88d4a8"/><rect x="72" width="1" height="1" color="#c8dca4"/><rect x="73" width="1" height="1" color="#74bc68"/><rect x="75" width="1" height="1" color="#eca8ac"/><rect x="76" width="1" height="1" color="#cce460"/><rect x="77" width="1" height="1" color="#a8ece0"/><rect x="88" width="1" height="1" color="#c08c68"/><rect x="89" width="1" height="1" color="#bc909c"/><rect x="90" width="1" height="1" color="#60d0f4"/><rect x="94" width="1" height="1" color="#8cbcd8"/><rect x="95" width="1" height="1" color="#9cfcb4"/><rect x="101" width="1" height="1" color="#e87088"/><rect x="104" width="1" height="1" color="#fcf468"/></g>
<g id="r45" transform="translate(0,45)"><rect x="28" width="1" height="1" color="#a07cf0"/><rect x="41" width="1" height="1" color="#d06c9c"/><rect x="47" width="1" height="1" color="#dc7490"/><rect x="51" width="1" height="1" color="#70f470"/><rect x="54" width="1" height="1" color="#eefcfc"/><rect x="61" width="1" height="1" color="#80fca4"/><rect x="66" width="1" height="1" color="#bc98c0"/><rect x="72" width="1" height="1" color="#bcd4c0"/><rect x="73" width="1" height="1" color="#dae4c4"/><rect x="75" width="1" height="1" color="#88a488"/><rect x="76" width="1" height="1" color="#9070f0"/><rect x="80" width="1" height="1" color="#a8b8d0"/><rect x="82" width="1" height="1" color="#a46c88"/><rect x="84" width="1" height="1" color="#dc6c6c"/><rect x="91" width="1" height="1" color="#e8f878"/><rect x="92" width="1" height="1" color="#6cc0bc"/><rect x="93" width="1" height="1" color="#8cb8a0"/><rect x="94" width="1" height="1" color="#e0906c"/><rect x="96" width="1" height="1" color="#d870f4"/><rect x="98" width="1" height="1" color="#6cd06c"/><rect x="99" width="1" height="1" color="#786c6c"/><rect x="100" width="1" height="1" color="#fc6ce0"/><rect x="101" width="1" height="1" color="#c090a8"/><rect x="102" width="1" height="1" color="#c8d4fc"/><rect x="104" width="1" height="1" color="#b07090"/><rect x="105" width="1" height="1" color="#d4ac78"/></g>
<g id="r46" transform="translate(0,46)"><rect x="36" width="1" height="1" color="#78e8c8"/><rect x="44" width="1" height="1" color="#acdc78"/><rect x="51" width="1" height="1" color="#b48088"/><rect x="58" width="1" height="1" color="#f098ac"/><rect x="62" width="1" height="1" color="#cc98a8"/><rect x="65" width="1" height="1" color="#a4bcbc"/><rect x="67" width="1" height="1" color="#886cd8"/><rect x="70" width="1" height="1" color="#886c9c"/><rect x="71" width="1" height="1" color="#8890cc"/><rect x="72" width="1" height="1" color="#ccacb8"/><rect x="74" width="1" height="1" color="#7c8c9c"/><rect x="75" width="1" height="1" color="#94c8b0"/><rect x="76" width="1" height="1" color="#6c9890"/><rect x="77" width="1" height="1" color="#d880e0"/><rect x="80" width="1" height="1" color="#d4946c"/><rect x="93" width="1" height="1" color="#ecebb0"/><rect x="95" width="1" height="1" color="#7cb06c"/><rect x="96" width="1" height="1" color="#6c70dc"/><rect x="97" width="1" height="1" color="#d0f8e4"/><rect x="100" width="1" height="1" color="#a0ec80"/><rect x="101" width="1" height="1" color="#ec6cec"/><rect x="103" width="1" height="1" color="#c8e0f4"/></g>
<g id="r47" transform="translate(0,47)"><rect x="21" width="1" height="1" color="#f080fc"/><rect x="30" width="1" height="1" color="#8cfc88"/><rect x="39" width="1" height="1" color="#b8d4b0"/><rect x="42" width="1" height="1" color="#d0c4b0"/><rect x="44" width="1" height="1" color="#cca890"/><rect x="51" width="1" height="1" color="#a8a070"/><rect x="63" width="1" height="1" color="#f4c0f4"/><rect x="68" width="1" height="1" color="#dcc0d4"/><rect x="69" width="1" height="1" color="#7488a8"/><rect x="70" width="1" height="1" color="#a8b8e8"/><rect x="73" width="1" height="1" color="#c0f46c"/><rect x="76" width="1" height="1" color="#70e4a0"/><rect x="77" width="1" height="1" color="#a08c78"/><rect x="79" width="1" height="1" color="#ec9070"/><rect x="81" width="1" height="1" color="#98a068"/><rect x="83" width="1" height="1" color="#c0b060"/><rect x="85" width="1" height="1" color="#a4eab0"/><rect x="95" width="1" height="1" color="#6c9cbc"/><rect x="99" width="1" height="1" color="#e8906c"/><rect x="101" width="1" height="1" color="#c8e898"/><rect x="102" width="1" height="1" color="#80c8fc"/><rect x="103" width="1" height="1" color="#b4b8bc"/></g>
<g id="r48" transform="translate(0,48)"><rect x="21" width="1" height="1" color="#feb868"/><rect x="37" width="1" height="1" color="#70d88c"/><rect x="39" width="1" height="1" color="#98f080"/><rect x="40" width="1" height="1" color="#b070f4"/><rect x="43" width="1" height="1" color="#a4b4c0"/><rect x="48" width="1" height="1" color="#98a478"/><rect x="60" width="1" height="1" color="#ec8094"/><rect x="62" width="1" height="1" color="#f0f0e4"/><rect x="65" width="1" height="1" color="#d0cccc"/><rect x="66" width="1" height="1" color="#686878"/><rect x="69" width="1" height="1" color="#80e4b4"/><rect x="72" width="1" height="1" color="#c8b4f8"/><rect x="74" width="1" height="1" color="#b0e0fc"/><rect x="77" width="1" height="1" color="#b8c8dc"/><rect x="78" width="1" height="1" color="#dcccc4"/><rect x="80" width="1" height="1" color="#b068d4"/><rect x="82" width="1" height="1" color="#b8f4dc"/><rect x="85" width="1" height="1" color="#d0b4fc"/><rect x="91" width="1" height="1" color="#d8c4a8"/><rect x="92" width="1" height="1" color="#cc6cc8"/><rect x="97" width="1" height="1" color="#b89ca0"/></g>
<g id="r49" transform="translate(0,49)"><rect x="24" width="1" height="1" color="#80e8d4"/><rect x="38" width="1" height="1" color="#70b064"/><rect x="40" width="1" height="1" color="#c094dc"/><rect x="41" width="1" height="1" color="#a088f4"/><rect x="43" width="1" height="1" color="#a8d490"/><rect x="62" width="1" height="1" color="#7898e0"/><rect x="64" width="1" height="1" color="#e87888"/><rect x="65" width="1" height="1" color="#e8ecb8"/><rect x="66" width="1" height="1" color="#f080c4"/><rect x="69" width="1" height="1" color="#eca4ac"/><rect x="70" width="1" height="1" color="#c4a898"/><rect x="71" width="1" height="1" color="#e898a8"/><rect x="72" width="1" height="1" color="#88c860"/><rect x="73" width="1" height="1" color="#8888a8"/><rect x="74" width="1" height="1" color="#806c80"/><rect x="76" width="1" height="1" color="#709478"/><rect x="78" width="1" height="1" color="#8cd460"/><rect x="79" width="1" height="1" color="#80b868"/><rect x="80" width="1" height="1" color="#e4b0e0"/><rect x="82" width="1" height="1" color="#90a878"/><rect x="83" width="1" height="1" color="#f088a8"/><rect x="88" width="1" height="1" color="#90e0a8"/><rect x="90" width="1" height="1" color="#c8e890"/><rect x="95" width="1" height="1" color="#8c8c6c"/><rect x="97" width="1" height="1" color="#7cc47c"/><rect x="99" width="1" height="1" color="#ec9470"/><rect x="100" width="1" height="1" color="#a4a0e4"/><rect x="101" width="1" height="1" color="#a084cc"/><rect x="102" width="1" height="1" color="#c09cfc"/></g>
<g id="r50" transform="translate(0,50)"><rect x="24" width="1" height="1" color="#a880c8"/><rect x="30" width="1" height="1" color="#ec7470"/><rect x="38" width="1" height="1" color="#a880e4"/><rect x="40" width="1" height="1" color="#8c98c4"/><rect x="41" width="1" height="1" color="#a4b4e4"/><rect x="42" width="1" height="1" color="#789c9c"/><rect x="52" width="1" height="1" color="#94bcdc"/><rect x="54" width="1" height="1" color="#c878e0"/><rect x="59" width="1" height="1" color="#f4fcd8"/><rect x="60" width="1" height="1" color="#c0f460"/><rect x="61" width="1" height="1" color="#88c8bc"/><rect x="62" width="1" height="1" color="#a4f464"/><rect x="63" width="1" height="1" color="#a46cc8"/><rect x="66" width="1" height="1" color="#6caae8"/><rect x="69" width="1" height="1" color="#88a8a8"/><rect x="70" width="1" height="1" color="#68b0a8"/><rect x="71" width="1" height="1" color="#e0d4c4"/><rect x="72" width="1" height="1" color="#98f470"/><rect x="73" width="1" height="1" color="#68fc90"/><rect x="74" width="1" height="1" color="#fcd088"/><rect x="75" width="1" height="1" color="#c4b890"/><rect x="76" width="1" height="1" color="#cca4ac"/><rect x="79" width="1" height="1" color="#80e4cc"/><rect x="80" width="1" height="1" color="#78c0b8"/><rect x="82" width="1" height="1" color="#80c0ec"/><rect x="83" width="1" height="1" color="#bca070"/><rect x="84" width="1" height="1" color="#b8ecac"/><rect x="90" width="1" height="1" color="#cce8e0"/><rect x="91" width="1" height="1" color="#7c80d0"/><rect x="92" width="1" height="1" color="#b0e8dc"/><rect x="99" width="1" height="1" color="#6c68f4"/><rect x="102" width="1" height="1" color="#78a8dc"/></g>
<g id="r51" transform="translate(0,51)"><rect x="7" width="1" height="1" color="#b8ec98"/><rect x="29" width="1" height="1" color="#7890f4"/><rect x="31" width="1" height="1" color="#a090a8"/><rect x="34" width="1" height="1" color="#c49080"/><rect x="35" width="1" height="1" color="#c4a488"/><rect x="38" width="1" height="1" color="#fcc080"/><rect x="40" width="1" height="1" color="#f8909c"/><rect x="43" width="1" height="1" color="#709878"/><rect x="59" width="1" height="1" color="#aca4f8"/><rect x="62" width="1" height="1" color="#9cc48c"/><rect x="65" width="1" height="1" color="#f4a4f4"/><rect x="72" width="1" height="1" color="#a0f0c8"/><rect x="74" width="1" height="1" color="#e4c0bc"/><rect x="75" width="1" height="1" color="#6ca4fc"/><rect x="77" width="1" height="1" color="#8c94e8"/><rect x="79" width="1" height="1" color="#ecd4e4"/><rect x="80" width="1" height="1" color="#cccc98"/><rect x="95" width="1" height="1" color="#78c4d4"/><rect x="96" width="1" height="1" color="#ec94bc"/></g>
<g id="r52" transform="translate(0,52)"><rect x="7" width="1" height="1" color="#fdecbc"/><rect x="29" width="1" height="1" color="#a4ec88"/><rect x="30" width="1" height="1" color="#b4e0f4"/><rect x="31" width="1" height="1" color="#68d0fc"/><rect x="32" width="1" height="1" color="#b0c8f4"/><rect x="34" width="1" height="1" color="#c0c070"/><rect x="35" width="1" height="1" color="#8c9070"/><rect x="40" width="1" height="1" color="#ccbcbc"/><rect x="41" width="1" height="1" color="#fc6c74"/><rect x="42" width="1" height="1" color="#c4fc9c"/><rect x="43" width="1" height="1" color="#c8c498"/><rect x="51" width="1" height="1" color="#c4a888"/><rect x="59" width="1" height="1" color="#7868f0"/><rect x="62" width="1" height="1" color="#7cc868"/><rect x="63" width="1" height="1" color="#b0a4c0"/><rect x="65" width="1" height="1" color="#80bc70"/><rect x="68" width="1" height="1" color="#8c88dc"/><rect x="70" width="1" height="1" color="#f4b4d4"/><rect x="73" width="1" height="1" color="#ec9ccc"/><rect x="76" width="1" height="1" color="#9070e8"/><rect x="80" width="1" height="1" color="#c4bcf4"/><rect x="89" width="1" height="1" color="#94fc8c"/><rect x="90" width="1" height="1" color="#9c6c9c"/><rect x="91" width="1" height="1" color="#ecd4c8"/><rect x="93" width="1" height="1" color="#b8b4e4"/><rect x="96" width="1" height="1" color="#d8cc98"/><rect x="102" width="1" height="1" color="#a070e8"/></g>
<g id="r54" transform="translate(0,54)"><rect x="0" width="1" height="1" color="#c8e4a8"/><rect x="1" width="1" height="1" color="#fefcc4"/><rect x="2" width="1" height="1" color="#dc7494"/><rect x="3" width="1" height="1" color="#ac80a8"/><rect x="4" width="1" height="1" color="#e4b088"/><rect x="5" width="1" height="1" color="#90ccd0"/><rect x="6" width="1" height="1" color="#b07878"/><rect x="7" width="1" height="1" color="#84ccd8"/><rect x="8" width="1" height="1" color="#9ce8f0"/><rect x="9" width="1" height="1" color="#9c9c80"/><rect x="10" width="1" height="1" color="#7cd0a0"/><rect x="11" width="1" height="1" color="#9cf8f0"/><rect x="12" width="1" height="1" color="#f868cc"/><rect x="13" width="1" height="1" color="#84ec94"/><rect x="14" width="1" height="1" color="#d0e4c4"/><rect x="15" width="1" height="1" color="#6ca4a8"/><rect x="16" width="1" height="1" color="#f0bc94"/><rect x="17" width="1" height="1" color="#c8b0c8"/><rect x="18" width="1" height="1" color="#94e0b0"/><rect x="19" width="1" height="1" color="#f8c4cc"/><rect x="20" width="1" height="1" color="#f8ecbc"/><rect x="21" width="1" height="1" color="#70a4ac"/><rect x="22" width="1" height="1" color="#b8c4ec"/><rect x="23" width="1" height="1" color="#80b894"/><rect x="24" width="1" height="1" color="#8ccc98"/><rect x="25" width="1" height="1" color="#8868b0"/><rect x="26" width="1" height="1" color="#6c98cc"/><rect x="27" width="1" height="1" color="#dc78bc"/><rect x="28" width="1" height="1" color="#cc70cc"/><rect x="29" width="1" height="1" color="#9ca89c"/><rect x="30" width="1" height="1" color="#d0a4e4"/><rect x="31" width="1" height="1" color="#8c6ce8"/><rect x="32" width="1" height="1" color="#9cb884"/><rect x="33" width="1" height="1" color="#88b880"/><rect x="34" width="1" height="1" color="#b0b4b0"/><rect x="35" width="1" height="1" color="#80a8a4"/><rect x="36" width="1" height="1" color="#fce890"/><rect x="37" width="1" height="1" color="#dc88b4"/><rect x="38" width="1" height="1" color="#a8b8e8"/><rect x="39" width="1" height="1" color="#fe80bc"/><rect x="40" width="1" height="1" color="#8c84c0"/><rect x="41" width="1" height="1" color="#8878ac"/><rect x="42" width="1" height="1" color="#b870c0"/><rect x="43" width="1" height="1" color="#7ccccc"/><rect x="44" width="1" height="1" color="#e8b0cc"/><rect x="45" width="1" height="1" color="#d498a8"/><rect x="46" width="1" height="1" color="#fc64e8"/><rect x="47" width="1" height="1" color="#d4d888"/><rect x="48" width="1" height="1" color="#ac7878"/><rect x="49" width="1" height="1" color="#8884f0"/><rect x="50" width="1" height="1" color="#a0a8a8"/><rect x="51" width="1" height="1" color="#f090f4"/><rect x="52" width="1" height="1" color="#fef890"/><rect x="53" width="1" height="1" color="#6c94ec"/><rect x="54" width="1" height="1" color="#68a48c"/><rect x="55" width="1" height="1" color="#8cc478"/><rect x="56" width="1" height="1" color="#84c49c"/><rect x="57" width="1" height="1" color="#68acd4"/><rect x="58" width="1" height="1" color="#b4a484"/><rect x="59" width="1" height="1" color="#f080ec"/><rect x="60" width="1" height="1" color="#ec9484"/><rect x="61" width="1" height="1" color="#e0ecac"/><rect x="62" width="1" height="1" color="#b8c0c8"/><rect x="63" width="1" height="1" color="#d0b8e8"/><rect x="64" width="1" height="1" color="#98dc90"/><rect x="65" width="1" height="1" color="#f0cc90"/><rect x="66" width="1" height="1" color="#80d0e4"/><rect x="67" width="1" height="1" color="#9488c4"/><rect x="68" width="1" height="1" color="#a0ece8"/><rect x="69" width="1" height="1" color="#dc8cd4"/><rect x="70" width="1" height="1" color="#70e8a4"/><rect x="71" width="1" height="1" color="#a89094"/><rect x="72" width="1" height="1" color="#e87494"/><rect x="73" width="1" height="1" color="#74d0b8"/><rect x="74" width="1" height="1" color="#d0fcf0"/><rect x="75" width="1" height="1" color="#fe7490"/><rect x="76" width="1" height="1" color="#d4f8b0"/><rect x="77" width="1" height="1" color="#acfc6c"/></g>
<g id="r55" transform="translate(0,55)"><rect x="0" width="1" height="1" color="#f49090"/><rect x="1" width="1" height="1" color="#80b478"/><rect x="2" width="1" height="1" color="#b86c70"/><rect x="3" width="1" height="1" color="#6ca4bc"/><rect x="4" width="1" height="1" color="#6ca0cc"/><rect x="5" width="1" height="1" color="#c08c70"/><rect x="6" width="1" height="1" color="#c488a0"/><rect x="7" width="1" height="1" color="#ece080"/><rect x="8" width="1" height="1" color="#f880e8"/><rect x="9" width="1" height="1" color="#a0ec70"/><rect x="10" width="1" height="1" color="#dcd8f8"/><rect x="11" width="1" height="1" color="#7caccc"/><rect x="12" width="1" height="1" color="#fe6c94"/><rect x="13" width="1" height="1" color="#8888ec"/><rect x="14" width="1" height="1" color="#8080b4"/><rect x="15" width="1" height="1" color="#fcb098"/><rect x="16" width="1" height="1" color="#70c0b4"/><rect x="17" width="1" height="1" color="#ecd89c"/><rect x="18" width="1" height="1" color="#bca4c0"/><rect x="19" width="1" height="1" color="#7878bc"/><rect x="20" width="1" height="1" color="#8898fc"/><rect x="21" width="1" height="1" color="#e8a0fc"/><rect x="22" width="1" height="1" color="#d86cc8"/><rect x="23" width="1" height="1" color="#d0b8f4"/><rect x="24" width="1" height="1" color="#9c70b4"/><rect x="25" width="1" height="1" color="#90cc74"/><rect x="26" width="1" height="1" color="#b4e470"/><rect x="27" width="1" height="1" color="#fcc088"/><rect x="28" width="1" height="1" color="#88a4bc"/><rect x="29" width="1" height="1" color="#e07880"/><rect x="30" width="1" height="1" color="#ccb8c4"/><rect x="31" width="1" height="1" color="#c8a0e0"/><rect x="32" width="1" height="1" color="#74a8d4"/><rect x="33" width="1" height="1" color="#acb0f0"/><rect x="34" width="1" height="1" color="#a86c70"/><rect x="35" width="1" height="1" color="#dcb4dc"/><rect x="36" width="1" height="1" color="#d48c9c"/><rect x="37" width="1" height="1" color="#ec88d8"/><rect x="38" width="1" height="1" color="#68acc4"/><rect x="39" width="1" height="1" color="#d89870"/><rect x="40" width="1" height="1" color="#d4c488"/><rect x="41" width="1" height="1" color="#a0b4ac"/><rect x="42" width="1" height="1" color="#a4886c"/><rect x="43" width="1" height="1" color="#c88478"/><rect x="44" width="1" height="1" color="#ec7c88"/><rect x="45" width="1" height="1" color="#ccb0b8"/><rect x="46" width="1" height="1" color="#e0a4cc"/><rect x="47" width="1" height="1" color="#c888ac"/><rect x="48" width="1" height="1" color="#a8b8c4"/><rect x="49" width="1" height="1" color="#7cf0b4"/><rect x="50" width="1" height="1" color="#707890"/><rect x="51" width="1" height="1" color="#b0e0c4"/><rect x="52" width="1" height="1" color="#d4c070"/><rect x="53" width="1" height="1" color="#80bcf4"/><rect x="54" width="1" height="1" color="#b468e0"/><rect x="55" width="1" height="1" color="#686888"/><rect x="56" width="1" height="1" color="#f4e4c0"/><rect x="57" width="1" height="1" color="#90ec78"/><rect x="58" width="1" height="1" color="#ccd4b4"/><rect x="59" width="1" height="1" color="#c4acd8"/><rect x="60" width="1" height="1" color="#708888"/><rect x="61" width="1" height="1" color="#d8f0cc"/><rect x="62" width="1" height="1" color="#70988c"/><rect x="63" width="1" height="1" color="#a0f0b8"/><rect x="64" width="1" height="1" color="#c08c9c"/><rect x="65" width="1" height="1" color="#6c7ce0"/><rect x="66" width="1" height="1" color="#9c88c8"/><rect x="67" width="1" height="1" color="#706884"/><rect x="68" width="1" height="1" color="#d4fc98"/><rect x="69" width="1" height="1" color="#a4dcec"/><rect x="70" width="1" height="1" color="#d4806c"/><rect x="71" width="1" height="1" color="#b0f070"/><rect x="72" width="1" height="1" color="#6c74c4"/><rect x="73" width="1" height="1" color="#78d0f0"/><rect x="75" width="1" height="1" color="#d86cf4"/><rect x="76" width="1" height="1" color="#b0a070"/><rect x="79" width="1" height="1" color="#dcf0dc"/><rect x="81" width="1" height="1" color="#b4dc6c"/><rect x="93" width="1" height="1" color="#b89498"/><rect x="95" width="1" height="1" color="#b0ec68"/><rect x="96" width="1" height="1" color="#a8d8e4"/><rect x="98" width="1" height="1" color="#f8e890"/><rect x="99" width="1" height="1" color="#70d898"/><rect x="100" width="1" height="1" color="#e08878"/></g>
</g>
<g id="axes">
<rect class="tk" x="231.5" y="62" width="4808" height="1232"/>
<path class="tk" d="M221.8 73h9.7M221.8 95h9.7M221.8 117h9.7M221.8 139h9.7M221.8 161h9.7M221.8 183h9.7M221.8 205h9.7M221.8 227h9.7M221.8 249h9.7M221.8 271h9.7M221.8 293h9.7M221.8 315h9.7M221.8 337h9.7M221.8 359h9.7M221.8 381h9.7M221.8 403h9.7M221.8 425h9.7M221.8 447h9.7M221.8 469h9.7M221.8 491h9.7M221.8 513h9.7M221.8 535h9.7M221.8 557h9.7M221.8 579h9.7M221.8 601h9.7M221.8 623h9.7M221.8 645h9.7M221.8 667h9.7M221.8 689h9.7M221.8 711h9.7M221.8 733h9.7M221.8 755h9.7M221.8 777h9.7M221.8 799h9.7M221.8 821h9.7M221.8 843h9.7M221.8 865h9.7M221.8 887h9.7M221.8 909h9.7M221.8 931h9.7M221.8 953h9.7M221.8 975h9.7M221.8 997h9.7M221.8 1019h9.7M221.8 1041h9.7M221.8 1063h9.7M221.8 1085h9.7M221.8 1107h9.7M221.8 1129h9.7M221.8 1151h9.7M221.8 1173h9.7M221.8 1195h9.7M221.8 1217h9.7M221.8 1239h9.7M221.8 1261h9.7M221.8 1283h9.7M231.5 1294v9.7M1090.1 1294v9.7M1948.7 1294v9.7M2807.3 1294v9.7M3665.9 1294v9.7M4524.5 1294v9.7"/>
<g class="xl"><text x="231.5" y="1337">0</text><text x="1090.1" y="1337">20</text><text x="1948.7" y="1337">40</text><text x="2807.3" y="1337">60</text><text x="3665.9" y="1337">80</text><text x="4524.5" y="1337">100</text></g>
<g class="yl">
<text x="212" y="83.7">MM0</text><text x="212" y="105.7">MM0</text><text x="212" y="127.7">MM0</text><text x="212" y="149.7">MM0</text><text x="212" y="171.7">MM0</text>
<text x="212" y="193.7">MM1</text><text x="212" y="215.7">MM1</text><text x="212" y="237.7">MM1</text><text x="212" y="259.7">MM1</text><text x="212" y="281.7">MM1</text>
<text x="212" y="303.7">MM_in0</text><text x="212" y="325.7">MM_in1</text>
<text x="212" y="347.7">MAS_in0</text><text x="212" y="369.7">MAS_in1</text><text x="212" y="391.7">MAS_in2</text><text x="212" y="413.7">MAS_in3</text><text x="212" y="435.7">MAS_in4</text><text x="212" y="457.7">MAS_in5</text>
<text x="212" y="479.7">CSEL</text>
<text x="212" y="501.7">MAS0</text><text x="212" y="523.7">MAS0</text><text x="212" y="545.7">MAS0</text>
<text x="212" y="567.7">MAS1</text><text x="212" y="589.7">MAS1</text><text x="212" y="611.7">MAS1</text>
<text x="212" y="633.7">MAS2</text><text x="212" y="655.7">MAS2</text><text x="212" y="677.7">MAS2</text>
<text x="212" y="699.7">MAS3</text><text x="212" y="721.7">MAS3</text><text x="212" y="743.7">MAS3</text>
<text x="212" y="765.7">MAS4</text><text x="212" y="787.7">MAS4</text><text x="212" y="809.7">MAS4</text>
<text x="212" y="831.7">MAS5</text><text x="212" y="853.7">MAS5</text><text x="212" y="875.7">MAS5</text>
<text x="212" y="897.7">MM_MEM0</text><text x="212" y="919.7">MM_MEM1</text><text x="212" y="941.7">MM_MEM2</text><text x="212" y="963.7">MM_MEM3</text>
<text x="212" y="985.7">MAS_MEM0</text><text x="212" y="1007.7">MAS_MEM1</text><text x="212" y="1029.7">MAS_MEM2</text><text x="212" y="1051.7">MAS_MEM3</text><text x="212" y="1073.7">MAS_MEM4</text><text x="212" y="1095.7">MAS_MEM5</text><text x="212" y="1117.7">MAS_MEM6</text><text x="212" y="1139.7">MAS_MEM7</text><text x="212" y="1161.7">MAS_MEM8</text><text x="212" y="1183.7">MAS_MEM9</text><text x="212" y="1205.7">MAS_MEM10</text><text x="212" y="1227.7">MAS_MEM11</text>
<text x="212" y="1249.7">MAIN_MEM_w</text><text x="212" y="1271.7">MAIN_MEM_r0</text><text x="212" y="1293.7">MAIN_MEM_r1</text>
</g>
</g>
</g>
</svg>
